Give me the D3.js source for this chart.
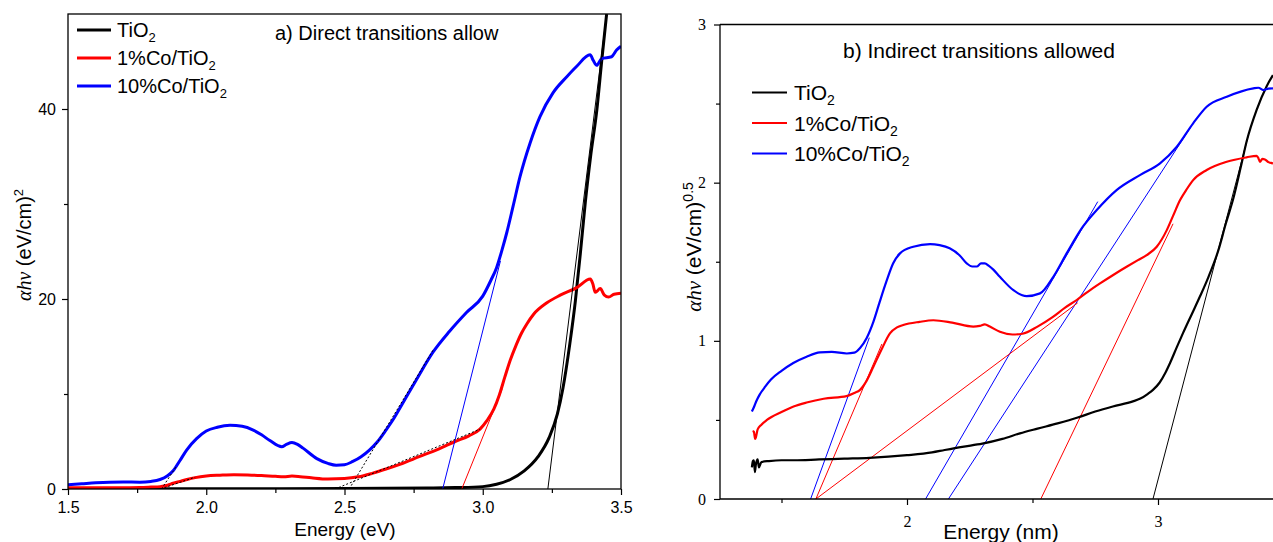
<!DOCTYPE html>
<html><head><meta charset="utf-8">
<script src="https://cdn.jsdelivr.net/npm/d3@7/dist/d3.min.js"></script>
<style>body{margin:0;background:#fff} svg{display:block}</style>
</head><body>
<svg id="c" width="1273" height="542"></svg>
<script>
// ---------- Panel a) direct transitions ----------
const tio2A = [[1.5,0.02],[2.0,0.03],[2.5,0.05],[2.8,0.1],[2.9,0.15],[3.0,0.25],[3.05,0.5],[3.1,1.0],[3.15,1.9],[3.2,3.4],[3.24,5.4],[3.27,7.9],[3.29,10.6],[3.315,15.3],[3.335,19.8],[3.353,24.8],[3.371,30.2],[3.39,35],[3.413,40],[3.43,45],[3.448,50]];
const co1A = [[1.5,0.12],[1.6,0.12],[1.7,0.13],[1.76,0.15],[1.8,0.2],[1.833,0.25],[1.86,0.4],[1.88,0.6],[1.905,0.8],[1.93,1.0],[1.96,1.2],[2.0,1.37],[2.05,1.45],[2.1,1.5],[2.15,1.48],[2.2,1.42],[2.25,1.33],[2.28,1.29],[2.31,1.36],[2.34,1.3],[2.38,1.18],[2.44,1.05],[2.5,1.1],[2.55,1.28],[2.6,1.65],[2.65,2.1],[2.7,2.6],[2.77,3.4],[2.84,4.2],[2.9,5.0],[2.95,5.6],[2.99,6.3],[3.015,7.2],[3.04,8.4],[3.06,9.9],[3.08,11.8],[3.1,13.6],[3.12,15.1],[3.14,16.4],[3.16,17.4],[3.184,18.4],[3.232,19.6],[3.28,20.4],[3.34,21.2],[3.389,22.1],[3.398,21.6],[3.407,20.7],[3.425,21.1],[3.44,20.4],[3.455,20.2],[3.475,20.5],[3.5,20.6]];
const co10A = [[1.5,0.45],[1.55,0.55],[1.6,0.65],[1.65,0.72],[1.7,0.75],[1.76,0.72],[1.8,0.8],[1.833,1.0],[1.86,1.4],[1.881,1.95],[1.905,3.0],[1.929,4.1],[1.965,5.3],[2.0,6.1],[2.04,6.5],[2.086,6.7],[2.13,6.6],[2.17,6.2],[2.2,5.7],[2.23,5.1],[2.273,4.45],[2.29,4.7],[2.31,4.9],[2.33,4.7],[2.35,4.3],[2.4,3.2],[2.44,2.7],[2.47,2.5],[2.5,2.55],[2.53,2.9],[2.56,3.4],[2.59,4.1],[2.62,5.0],[2.65,6.2],[2.68,7.5],[2.71,9.0],[2.76,11.5],[2.82,14.4],[2.88,16.6],[2.942,18.6],[3.0,20.3],[3.03,22.0],[3.05,23.3],[3.07,25.2],[3.087,27.0],[3.11,29.8],[3.135,32.9],[3.171,36.4],[3.207,39.2],[3.254,41.7],[3.304,43.4],[3.34,44.5],[3.388,45.7],[3.4,45.1],[3.412,44.6],[3.43,45.3],[3.466,45.5],[3.484,46.2],[3.5,46.6]];
const fitsA = [
  {c:"#0000ff", p:[[2.855,0],[3.064,24]]},
  {c:"#ff0000", p:[[2.924,0],[3.07,10.5]]},
  {c:"#000000", p:[[3.2355,0],[3.448,50]]}
];
const dotsA = [
  [[1.838,0],[1.89,2.3]],
  [[1.835,0],[1.96,1.25]],
  [[2.517,0],[2.82,14.6]],
  [[2.466,0],[2.99,6.3]]
];
const xTicksA = [1.5,2.0,2.5,3.0,3.5];
const xMinorA = [1.75,2.25,2.75,3.25];
const yTicksA = [0,20,40];
const yMinorA = [10,30];

// ---------- Panel b) indirect transitions ----------
const tio2B = [[1.382,0.2],[1.386,0.24],[1.39,0.245],[1.394,0.17],[1.398,0.22],[1.405,0.25],[1.41,0.2],[1.42,0.234],[1.45,0.24],[1.5,0.245],[1.55,0.245],[1.65,0.25],[1.75,0.255],[1.85,0.26],[2.0,0.277],[2.1,0.295],[2.15,0.31],[2.22,0.33],[2.3,0.35],[2.38,0.38],[2.45,0.415],[2.52,0.445],[2.6,0.478],[2.68,0.515],[2.75,0.553],[2.82,0.585],[2.9,0.617],[2.93,0.635],[2.96,0.665],[2.98,0.69],[3.006,0.735],[3.03,0.8],[3.048,0.86],[3.075,0.96],[3.10,1.05],[3.135,1.17],[3.167,1.28],[3.2,1.4],[3.24,1.57],[3.27,1.74],[3.3,1.9],[3.33,2.1],[3.353,2.26],[3.393,2.46],[3.433,2.61],[3.458,2.68]];
const co1B = [[1.385,0.43],[1.39,0.425],[1.395,0.38],[1.398,0.39],[1.405,0.44],[1.42,0.47],[1.442,0.5],[1.5,0.55],[1.548,0.585],[1.6,0.61],[1.668,0.634],[1.759,0.65],[1.79,0.67],[1.813,0.69],[1.84,0.75],[1.866,0.836],[1.9,0.95],[1.932,1.047],[1.96,1.085],[1.985,1.1],[2.05,1.12],[2.105,1.13],[2.18,1.115],[2.264,1.09],[2.29,1.095],[2.31,1.104],[2.33,1.09],[2.37,1.057],[2.42,1.04],[2.46,1.045],[2.52,1.09],[2.58,1.15],[2.63,1.21],[2.676,1.258],[2.72,1.31],[2.769,1.363],[2.82,1.415],[2.875,1.468],[2.92,1.51],[2.955,1.542],[2.995,1.595],[3.035,1.70],[3.06,1.79],[3.088,1.89],[3.115,1.96],[3.14,2.016],[3.194,2.08],[3.274,2.132],[3.353,2.16],[3.393,2.17],[3.4,2.155],[3.406,2.132],[3.416,2.15],[3.426,2.147],[3.44,2.13],[3.458,2.122]];
const co10B = [[1.382,0.553],[1.39,0.58],[1.40,0.62],[1.413,0.66],[1.435,0.71],[1.458,0.755],[1.5,0.81],[1.547,0.86],[1.6,0.9],[1.653,0.927],[1.7,0.93],[1.76,0.92],[1.79,0.925],[1.813,0.955],[1.84,1.02],[1.866,1.12],[1.89,1.24],[1.919,1.38],[1.945,1.49],[1.972,1.553],[2.025,1.595],[2.092,1.612],[2.13,1.605],[2.17,1.585],[2.21,1.54],[2.238,1.49],[2.26,1.47],[2.278,1.47],[2.295,1.49],[2.31,1.49],[2.325,1.475],[2.344,1.45],[2.37,1.405],[2.424,1.32],[2.477,1.283],[2.53,1.30],[2.583,1.405],[2.636,1.553],[2.70,1.72],[2.756,1.827],[2.835,1.953],[2.928,2.048],[3.008,2.122],[3.075,2.227],[3.14,2.375],[3.194,2.48],[3.274,2.543],[3.38,2.596],[3.40,2.60],[3.42,2.585],[3.44,2.595],[3.458,2.596]];
const fitsB = [
  {c:"#0000ff", p:[[1.616,0],[1.85,1.02]]},
  {c:"#0000ff", p:[[2.074,0],[2.76,1.88]]},
  {c:"#0000ff", p:[[2.165,0],[3.13,2.35]]},
  {c:"#ff0000", p:[[1.637,0],[1.9,0.98]]},
  {c:"#ff0000", p:[[1.637,0],[2.68,1.24]]},
  {c:"#ff0000", p:[[2.533,0],[3.06,1.74]]},
  {c:"#000000", p:[[2.98,0],[3.36,2.3]]}
];
const xTicksB = [2,3];
const xMinorB = [1.5,2.5];
const yTicksB = [0,1,2,3];
const yMinorB = [0.5,1.5,2.5];

const seriesNames = ["TiO", "1%Co/TiO", "10%Co/TiO"];
const seriesColors = ["#000000", "#ff0000", "#0000ff"];

// ---------- drawing ----------
const svg = d3.select("#c");
const SANS = "'Liberation Sans', Arial, sans-serif";
const SERIF = "'Liberation Serif', 'Times New Roman', serif";

const xA = d3.scaleLinear().domain([1.5,3.5]).range([68,621]);
const yA = d3.scaleLinear().domain([0,50]).range([489,14]);
const xB = d3.scaleLinear().domain([2,3]).range([907,1158]);
const yB = d3.scaleLinear().domain([0,3]).range([499,24.5]);

const defs = svg.append("defs");
defs.append("clipPath").attr("id","clipA").append("rect").attr("x",68).attr("y",14).attr("width",553).attr("height",475);
defs.append("clipPath").attr("id","clipB").append("rect").attr("x",720).attr("y",24.5).attr("width",560).attr("height",474.5);

function styleAxis(g, font, size){
  g.select(".domain").remove();
  g.selectAll(".tick line").attr("stroke","#000").attr("stroke-width",1.2);
  g.selectAll(".tick text").attr("fill","#000").style("font-family",font).style("font-size",size+"px");
}

// Panel A
const gA = svg.append("g");
const plotA = gA.append("g").attr("clip-path","url(#clipA)");
const lineA = d3.line().x(d=>xA(d[0])).y(d=>yA(d[1])).curve(d3.curveMonotoneX);
const lineAL = d3.line().x(d=>xA(d[0])).y(d=>yA(d[1]));
[tio2A, co1A, co10A].forEach((s,i)=>{
  plotA.append("path").attr("d",lineA(s)).attr("fill","none").attr("stroke",seriesColors[i]).attr("stroke-width",3).attr("stroke-linejoin","round");
});
fitsA.forEach(f=>{
  plotA.append("path").attr("d",lineAL(f.p)).attr("fill","none").attr("stroke",f.c).attr("stroke-width",1);
});
dotsA.forEach(p=>{
  plotA.append("path").attr("d",lineAL(p)).attr("fill","none").attr("stroke","#000").attr("stroke-width",1).attr("stroke-dasharray","2,2");
});
gA.append("rect").attr("x",68).attr("y",14).attr("width",553).attr("height",475).attr("fill","none").attr("stroke","#000").attr("stroke-width",1.3);

let ax = gA.append("g").attr("transform","translate(0,489)").call(d3.axisBottom(xA).tickValues(xTicksA).tickFormat(d3.format(".1f")).tickSize(6).tickSizeOuter(0).tickPadding(7));
styleAxis(ax, SANS, 16);
ax = gA.append("g").attr("transform","translate(0,489)").call(d3.axisBottom(xA).tickValues(xMinorA).tickFormat("").tickSize(4).tickSizeOuter(0));
styleAxis(ax, SANS, 16);
ax = gA.append("g").attr("transform","translate(68,0)").call(d3.axisLeft(yA).tickValues(yTicksA).tickSize(6).tickSizeOuter(0).tickPadding(6));
styleAxis(ax, SANS, 16);
ax = gA.append("g").attr("transform","translate(68,0)").call(d3.axisLeft(yA).tickValues(yMinorA).tickFormat("").tickSize(4).tickSizeOuter(0));
styleAxis(ax, SANS, 16);

gA.append("text").attr("x",345).attr("y",536).attr("text-anchor","middle").style("font-family",SANS).style("font-size","19px").text("Energy (eV)");
const ylA = gA.append("text").attr("transform","translate(31,245) rotate(-90)").attr("text-anchor","middle").style("font-family",SANS).style("font-size","20px");
ylA.append("tspan").style("font-family",SERIF).style("font-style","italic").text("\u03b1h\u03bd");
ylA.append("tspan").text(" (eV/cm)");
ylA.append("tspan").attr("dy",-8).style("font-size","13px").text("2");

gA.append("text").attr("x",275).attr("y",40).style("font-family",SANS).style("font-size","20px").text("a) Direct transitions allow");

seriesNames.forEach((n,i)=>{
  const y = 30 + 28*i;
  gA.append("line").attr("x1",77).attr("x2",111).attr("y1",y).attr("y2",y).attr("stroke",seriesColors[i]).attr("stroke-width",3);
  const t = gA.append("text").attr("x",117).attr("y",y+7).style("font-family",SANS).style("font-size","20px");
  t.append("tspan").text(n);
  t.append("tspan").attr("dy",5).style("font-size","13px").text("2");
});

// Panel B
const gB = svg.append("g");
const plotB = gB.append("g").attr("clip-path","url(#clipB)");
const lineB = d3.line().x(d=>xB(d[0])).y(d=>yB(d[1])).curve(d3.curveMonotoneX);
const lineBL = d3.line().x(d=>xB(d[0])).y(d=>yB(d[1]));
fitsB.forEach(f=>{
  plotB.append("path").attr("d",lineBL(f.p)).attr("fill","none").attr("stroke",f.c).attr("stroke-width",1);
});
[tio2B, co1B, co10B].forEach((s,i)=>{
  plotB.append("path").attr("d",lineB(s)).attr("fill","none").attr("stroke",seriesColors[i]).attr("stroke-width",2.2).attr("stroke-linejoin","round");
});
gB.append("path").attr("d","M720,24.5H1273M720,24.5V499H1273").attr("fill","none").attr("stroke","#000").attr("stroke-width",1.3);

ax = gB.append("g").attr("transform","translate(0,499)").call(d3.axisBottom(xB).tickValues(xTicksB).tickFormat(d3.format("d")).tickSize(6).tickSizeOuter(0).tickPadding(11));
styleAxis(ax, SERIF, 16);
ax = gB.append("g").attr("transform","translate(0,499)").call(d3.axisBottom(xB).tickValues(xMinorB).tickFormat("").tickSize(4).tickSizeOuter(0));
styleAxis(ax, SERIF, 16);
ax = gB.append("g").attr("transform","translate(720,0)").call(d3.axisLeft(yB).tickValues(yTicksB).tickFormat(d3.format("d")).tickSize(6).tickSizeOuter(0).tickPadding(8));
styleAxis(ax, SERIF, 16);
ax = gB.append("g").attr("transform","translate(720,0)").call(d3.axisLeft(yB).tickValues(yMinorB).tickFormat("").tickSize(4).tickSizeOuter(0));
styleAxis(ax, SERIF, 16);

gB.append("text").attr("x",1001).attr("y",539).attr("text-anchor","middle").style("font-family",SANS).style("font-size","21px").text("Energy (nm)");
const ylB = gB.append("text").attr("transform","translate(701,247) rotate(-90)").attr("text-anchor","middle").style("font-family",SANS).style("font-size","21px");
ylB.append("tspan").style("font-family",SERIF).style("font-style","italic").text("\u03b1h\u03bd");
ylB.append("tspan").text(" (eV/cm)");
ylB.append("tspan").attr("dy",-8).style("font-size","14px").text("0.5");

gB.append("text").attr("x",843).attr("y",58).style("font-family",SANS).style("font-size","21px").text("b) Indirect transitions allowed");

seriesNames.forEach((n,i)=>{
  const y = 92.5 + 30.5*i;
  gB.append("line").attr("x1",752).attr("x2",787).attr("y1",y).attr("y2",y).attr("stroke",seriesColors[i]).attr("stroke-width",2.2);
  const t = gB.append("text").attr("x",794).attr("y",y+7.5).style("font-family",SANS).style("font-size","21px");
  t.append("tspan").text(n);
  t.append("tspan").attr("dy",5).style("font-size","14px").text("2");
});
</script>
</body></html>
